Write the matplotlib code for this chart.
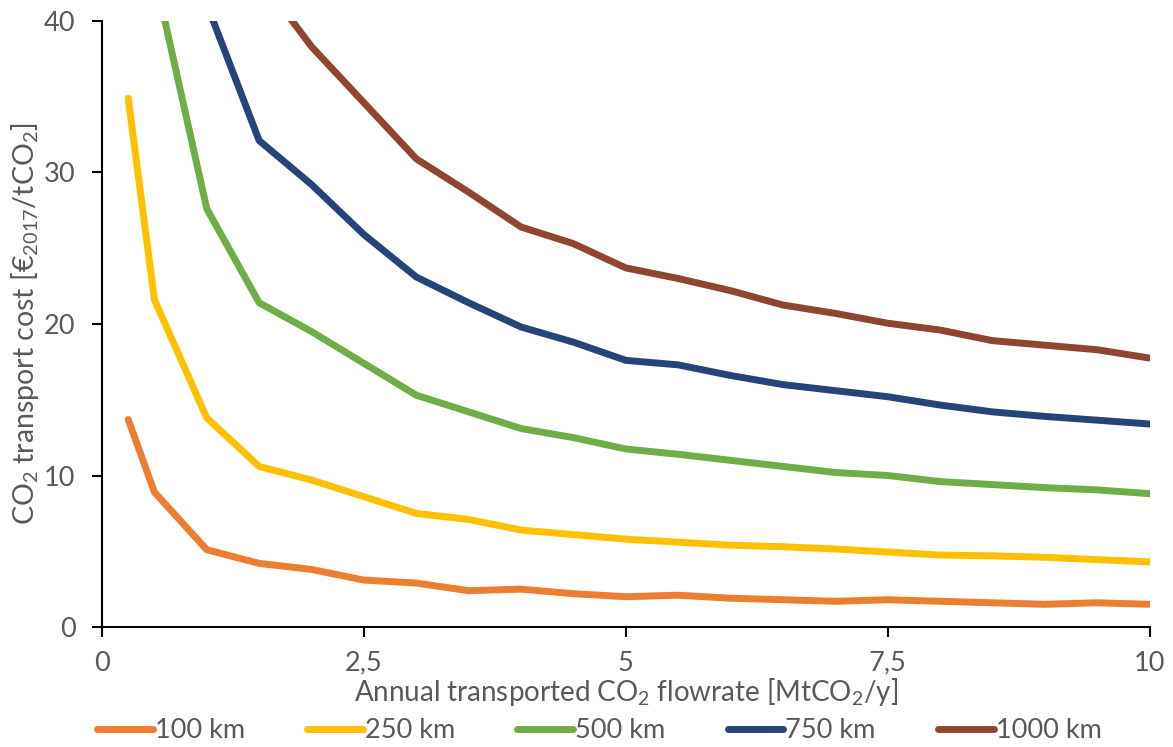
import matplotlib
matplotlib.use("Agg")
import matplotlib.pyplot as plt
from matplotlib.ticker import FixedLocator, FuncFormatter

plt.rcParams['font.family'] = ['Lato', 'DejaVu Sans']
plt.rcParams['mathtext.default'] = 'regular'

flowrate = [0.25, 0.5, 1, 1.5, 2, 2.5, 3, 3.5, 4, 4.5, 5, 5.5, 6, 6.5, 7, 7.5, 8, 8.5, 9, 9.5, 10]

cost_100 = [13.7, 8.9, 5.1, 4.2, 3.8, 3.1, 2.9, 2.4, 2.5, 2.2, 2.0, 2.1, 1.9, 1.8, 1.7, 1.8, 1.7, 1.6, 1.5, 1.6, 1.5]
cost_250 = [34.9, 21.6, 13.8, 10.6, 9.7, 8.6, 7.5, 7.1, 6.4, 6.1, 5.8, 5.6, 5.4, 5.3, 5.15, 4.95, 4.75, 4.7, 4.6, 4.45, 4.3]
cost_500 = [70.0, 43.1, 27.6, 21.4, 19.5, 17.4, 15.3, 14.2, 13.1, 12.5, 11.75, 11.4, 11.0, 10.6, 10.2, 10.0, 9.6, 9.4, 9.2, 9.05, 8.8]
cost_750 = [105.0, 64.0, 41.1, 32.1, 29.2, 25.9, 23.1, 21.4, 19.8, 18.8, 17.6, 17.3, 16.6, 16.0, 15.6, 15.2, 14.65, 14.2, 13.9, 13.65, 13.4]
cost_1000 = [140.0, 85.0, 55.0, 42.9, 38.3, 34.6, 30.9, 28.7, 26.4, 25.3, 23.7, 23.0, 22.2, 21.25, 20.7, 20.05, 19.6, 18.9, 18.6, 18.3, 17.75]

series = [
    ("100 km", cost_100, "#ED7D31"),
    ("250 km", cost_250, "#FFC000"),
    ("500 km", cost_500, "#70AD47"),
    ("750 km", cost_750, "#264478"),
    ("1000 km", cost_1000, "#8E4631"),
]

x_ticks = [0, 2.5, 5, 7.5, 10]
y_ticks = [0, 10, 20, 30, 40]

fig = plt.figure(figsize=(11.73, 7.47), dpi=100)
ax = fig.add_axes([0.087, 0.1606, 0.893, 0.8114])

for label, vals, color in series:
    ax.plot(flowrate, vals, color=color, lw=5.0, label=label, solid_capstyle='round', solid_joinstyle='round')

ax.set_xlim(0, 10)
ax.set_ylim(0, 40)
ax.xaxis.set_major_locator(FixedLocator(x_ticks))
ax.yaxis.set_major_locator(FixedLocator(y_ticks))
ax.xaxis.set_major_formatter(FuncFormatter(lambda v, p: ('%g' % v).replace('.', ',')))

for s in ['top', 'right']:
    ax.spines[s].set_visible(False)
for s in ['left', 'bottom']:
    ax.spines[s].set_color('black')
    ax.spines[s].set_linewidth(1.5)

ax.tick_params(axis='both', direction='out', length=7, width=1.5, color='black',
               labelcolor='#595959', labelsize=19.5)
ax.tick_params(axis='y', pad=12)
ax.tick_params(axis='x', pad=10)

ax.set_xlabel(r'Annual transported CO$_2$ flowrate [MtCO$_2$/y]', fontsize=20, color='#595959', labelpad=0)
ax.set_ylabel(r'CO$_2$ transport cost [€$_{2017}$/tCO$_2$]', fontsize=20.5, color='#595959', labelpad=2)

fig.legend(loc='center', bbox_to_anchor=(0.511, 0.022), ncol=5, frameon=False,
           fontsize=19.5, handlelength=2.05, handletextpad=0.08, columnspacing=2.3,
           labelcolor='#595959')

fig.savefig('out.png', dpi=100)
